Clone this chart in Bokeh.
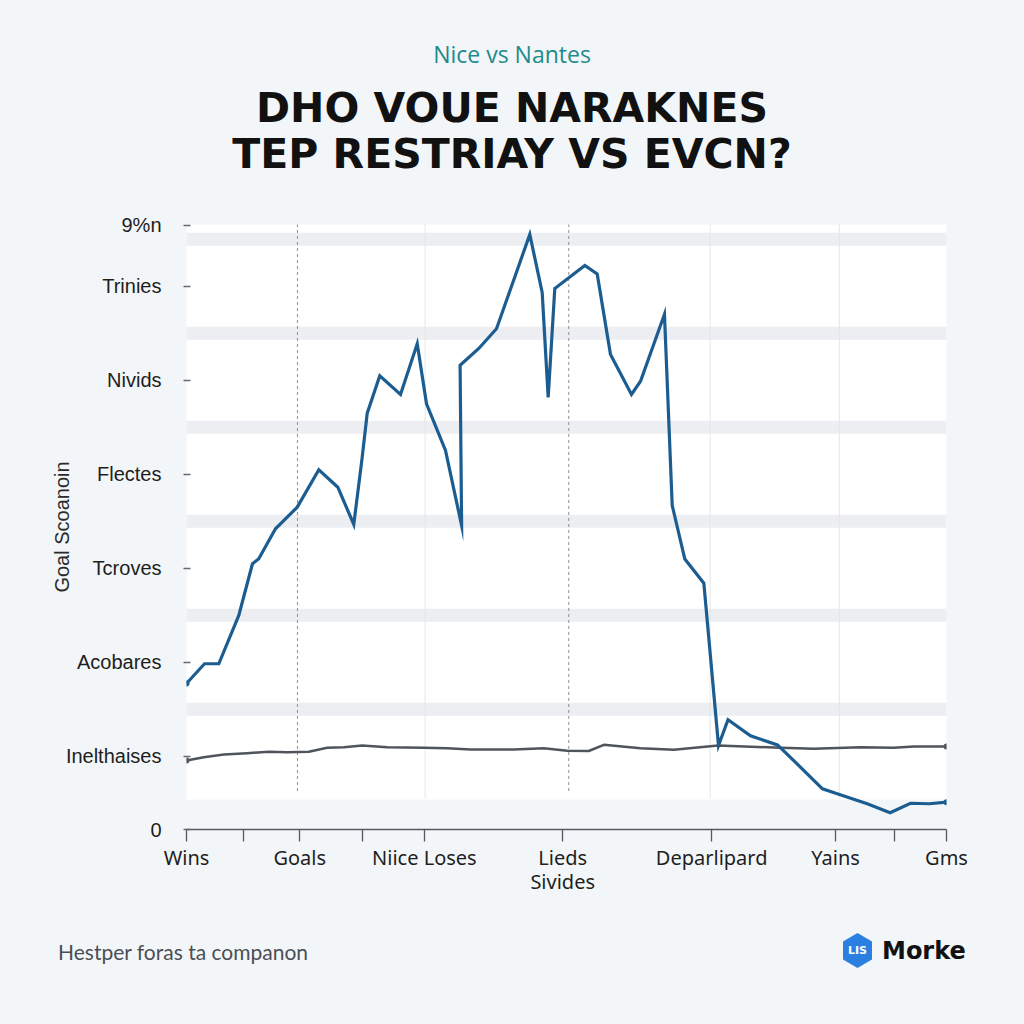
from bokeh.plotting import figure
from bokeh.models import Range1d, FixedTicker, BoxAnnotation, Div
from bokeh.layouts import column
from bokeh.embed import file_html
from bokeh.resources import INLINE

# ---------------- data ----------------
subtitle = "Nice vs Nantes"
title_lines = ["DHO VOUE NARAKNES", "TEP RESTRIAY VS EVCN?"]
y_title = "Goal Scoanoin"
footer = "Hestper foras ta companon"
brand = "Morke"
brand_badge = "LIS"

x_ticks = [0, 7.45, 14.9, 23.1, 31.3, 49.5, 69.1, 85.4, 93.1, 100]
x_tick_labels = ["Wins", "", "Goals", "", "Niice Loses", "Lieds\nSivides",
                 "Deparlipard", "Yains", "", "Gms"]

y_ticks = [0, 0.78, 1.78, 2.78, 3.78, 4.78, 5.78, 6.43]
y_tick_labels = ["0", "Inelthaises", "Acobares", "Tcroves", "Flectes",
                 "Nivids", "Trinies", "9%n"]

blue_x = [0, 2.37, 4.25, 6.88, 8.68, 9.51, 11.71, 13.25, 14.57, 17.41, 19.91,
          22.01, 23.12, 23.78, 25.43, 28.16, 30.36, 31.58, 34.08, 36.2, 36.0,
          38.46, 40.79, 45.17, 46.80, 47.59, 48.46, 52.41, 54.04, 55.79, 58.55,
          59.74, 62.89, 63.91, 65.57, 68.07, 70.0, 71.25, 74.21, 77.76, 78.55,
          83.68, 85.62, 89.57, 92.59, 95.26, 97.76, 100]
blue_y = [1.553, 1.763, 1.763, 2.277, 2.827, 2.880, 3.199, 3.322, 3.429, 3.827,
          3.641, 3.245, 3.961, 4.429, 4.827, 4.628, 5.167, 4.529, 4.032, 3.234,
          4.939, 5.117, 5.327, 6.330, 5.713, 4.596, 5.755, 6.000, 5.909, 5.053,
          4.628, 4.769, 5.482, 3.447, 2.877, 2.620, 0.894, 1.168, 0.997, 0.899,
          0.840, 0.433, 0.380, 0.274, 0.179, 0.279, 0.274, 0.291]

gray_x = [0, 2.28, 4.91, 7.99, 10.83, 13.25, 16.09, 18.51, 20.70, 23.12, 26.41,
          31.22, 34.30, 37.37, 43.07, 47.01, 50.09, 52.93, 54.91, 59.74, 64.12,
          69.96, 78.16, 82.54, 88.68, 93.07, 95.70, 100]
gray_y = [0.734, 0.769, 0.798, 0.812, 0.827, 0.822, 0.827, 0.869, 0.876, 0.894,
          0.876, 0.869, 0.865, 0.851, 0.851, 0.865, 0.837, 0.835, 0.901, 0.865,
          0.848, 0.894, 0.869, 0.859, 0.876, 0.869, 0.883, 0.883]

vline_dashed = [14.6, 50.3]
vline_solid = [31.4, 68.9, 85.9]

# ---------------- style ----------------
BG = "#f3f6f8"
BAND = "#eceef2"
BLUE = "#1c5d91"
GRAY = "#50555b"

HEADER_H = 200
FIG_H = 710
FOOTER_H = 1024 - HEADER_H - FIG_H

# ---------------- header ----------------
def abs_text(text, top, size, font, color, weight="normal", left=None, extra=""):
    pos = (f"left:{left}px;" if left is not None
           else "left:0;width:1024px;text-align:center;")
    return (f'<div style="position:absolute;{pos}top:{top}px;font-family:\'{font}\';'
            f'font-size:{size}px;line-height:{size}px;font-weight:{weight};'
            f'color:{color};white-space:nowrap;{extra}">{text}</div>')

header_html = (
    f'<div style="position:relative;width:1024px;height:{HEADER_H}px;">'
    + abs_text(subtitle, 43, 23, "Open Sans", "#1f8a8c", "500")
    + abs_text(title_lines[0], 88, 41, "DejaVu Sans", "#111111", "bold")
    + abs_text(title_lines[1], 134, 41, "DejaVu Sans", "#111111", "bold")
    + '</div>'
)
header = Div(text=header_html, width=1024, height=HEADER_H, margin=0,
             styles={"background-color": BG})

# ---------------- figure ----------------
p = figure(width=1024, height=FIG_H, output_backend="svg", toolbar_location=None,
           x_range=Range1d(0, 100), y_range=Range1d(0, 6.436),
           min_border_left=186, min_border_right=78,
           min_border_top=224 - HEADER_H, min_border_bottom=FIG_H - (829 - HEADER_H),
           margin=0)
p.outline_line_color = None
p.background_fill_color = BG
p.border_fill_color = BG
p.xgrid.visible = False
p.ygrid.visible = False

p.add_layout(BoxAnnotation(bottom=0.32, fill_color="white", fill_alpha=1,
                           line_color=None, level="underlay"))
for t in y_ticks[1:-1]:
    c = t + 0.5
    p.add_layout(BoxAnnotation(bottom=c - 0.069, top=c + 0.069, fill_color=BAND,
                               fill_alpha=1, line_color=None, level="underlay"))

top = y_ticks[-1] + 0.01
p.segment(x0=vline_solid, x1=vline_solid, y0=[0.33] * len(vline_solid),
          y1=[top] * len(vline_solid), line_color="#e3e6ea", line_width=1)
p.segment(x0=vline_dashed, x1=vline_dashed, y0=[0.41] * len(vline_dashed),
          y1=[top] * len(vline_dashed), line_color="#8a8e94", line_width=1,
          line_dash="3 3")

p.line(gray_x, gray_y, line_color=GRAY, line_width=2.5, line_join="round")
p.scatter([gray_x[0], gray_x[-1]], [gray_y[0], gray_y[-1]], size=6,
          fill_color=GRAY, line_color=None)
p.line(blue_x, blue_y, line_color=BLUE, line_width=3.2, line_join="miter")
p.scatter([blue_x[0], blue_x[-1]], [blue_y[0], blue_y[-1]], size=6,
          fill_color=BLUE, line_color=None)

xa = p.xaxis[0]
xa.ticker = FixedTicker(ticks=x_ticks)
xa.major_label_overrides = {t: l for t, l in zip(x_ticks, x_tick_labels)}
xa.axis_line_color = "#555a60"
xa.axis_line_width = 1.3
xa.major_tick_line_color = "#555a60"
xa.major_tick_line_width = 1.3
xa.major_tick_out = 12
xa.major_tick_in = 0
xa.minor_tick_line_color = None
xa.major_label_standoff = 2
xa.major_label_text_font = "Noto Sans"
xa.major_label_text_font_size = "20px"
xa.major_label_text_line_height = 0.9
xa.major_label_text_color = "#1e1e1e"

ya = p.yaxis[0]
ya.ticker = FixedTicker(ticks=y_ticks)
ya.major_label_overrides = {t: l for t, l in zip(y_ticks, y_tick_labels)}
ya.axis_line_color = None
ya.major_tick_line_color = "#666a70"
ya.major_tick_line_width = 1.3
ya.major_tick_out = 3
ya.major_tick_in = 4
ya.minor_tick_line_color = None
ya.major_label_standoff = 22
ya.major_label_text_font = "Liberation Sans"
ya.major_label_text_font_size = "20px"
ya.major_label_text_color = "#1e1e1e"
ya.axis_label = y_title
ya.axis_label_text_font = "Liberation Sans"
ya.axis_label_text_font_size = "20px"
ya.axis_label_text_font_style = "normal"
ya.axis_label_text_color = "#2a2a2a"
ya.axis_label_standoff = -10

# ---------------- footer ----------------
ft = HEADER_H + FIG_H
footer_html = (
    f'<div style="position:relative;width:1024px;height:{FOOTER_H}px;">'
    + abs_text(footer, 941 - ft, 21, "Lato", "#4a4f55", "normal", left=58)
    + f'<div style="position:absolute;left:843px;top:{933 - ft}px;width:29px;height:35px;'
      'background:#2b7fe0;clip-path:polygon(50% 0,100% 24%,100% 76%,50% 100%,0 76%,0 24%);'
      'display:flex;align-items:center;justify-content:center;'
      'font-family:\'DejaVu Sans\';font-weight:bold;font-size:11px;color:white;">'
      f'{brand_badge}</div>'
    + abs_text(brand, 939 - ft, 24, "DejaVu Sans", "#111111", "bold", left=882)
    + '</div>'
)
foot = Div(text=footer_html, width=1024, height=FOOTER_H, margin=0,
           styles={"background-color": BG})

layout = column(header, p, foot, spacing=0, margin=0,
                styles={"background-color": BG})

open("out.html", "w").write(file_html(layout, INLINE))
